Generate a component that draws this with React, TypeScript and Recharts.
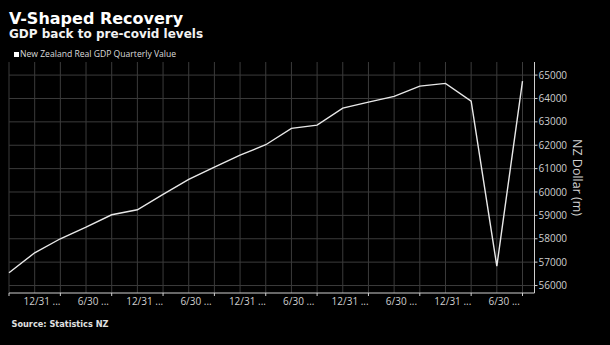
import { LineChart, Line, XAxis, YAxis, CartesianGrid } from "recharts";

// quarterly real GDP, NZ$ m
const quarters = [
  "2015-09-30", "2015-12-31", "2016-03-31", "2016-06-30", "2016-09-30",
  "2016-12-31", "2017-03-31", "2017-06-30", "2017-09-30", "2017-12-31",
  "2018-03-31", "2018-06-30", "2018-09-30", "2018-12-31", "2019-03-31",
  "2019-06-30", "2019-09-30", "2019-12-31", "2020-03-31", "2020-06-30",
  "2020-09-30",
];
const gdpValues = [
  56545, 57400, 58000, 58496, 59026, 59240, 59895, 60537, 61063, 61577,
  62022, 62719, 62860, 63588, 63845, 64089, 64529, 64645, 63887, 56827,
  64743,
];
const tickLabels = [
  "12/31 ...", "6/30 ...", "12/31 ...", "6/30 ...", "12/31 ...",
  "6/30 ...", "12/31 ...", "6/30 ...", "12/31 ...", "6/30 ...",
];
const yTicks = [56000, 57000, 58000, 59000, 60000, 61000, 62000, 63000, 64000, 65000];
const seriesName = "New Zealand Real GDP Quarterly Value";

const data = gdpValues.map((v, i) => ({ q: i, date: quarters[i], gdp: v }));
const xTicks = quarters.map((_, i) => i).filter((i) => i % 2 === 0);

const sans = "'Open Sans', sans-serif";
const bold = "'DejaVu Sans', sans-serif";

function QuarterTick(props: any) {
  const { x, y, payload } = props;
  const text = tickLabels[payload.value / 2];
  if (!text) return null;
  return (
    <text x={x} y={y} dx={33} dy="0.71em" textAnchor="middle" fill="#cfcfcf" fontSize={10} fontFamily={sans}>
      {text}
    </text>
  );
}

export default function App() {
  return (
    <div
      style={{
        position: "fixed",
        left: 0,
        top: 0,
        width: 610,
        height: 345,
        background: "#000",
        overflow: "hidden",
      }}
    >
      <div style={{ position: "absolute", left: 9, top: 10.5, fontFamily: bold, fontWeight: 700, fontSize: 16, lineHeight: "16px", color: "#fff" }}>
        V-Shaped Recovery
      </div>
      <div style={{ position: "absolute", left: 9, top: 27.5, fontFamily: bold, fontWeight: 700, fontSize: 12, lineHeight: "12px", color: "#f2f2f2" }}>
        GDP back to pre-covid levels
      </div>
      <div style={{ position: "absolute", left: 14, top: 51.5, width: 5, height: 5, background: "#fff" }} />
      <div style={{ position: "absolute", left: 20, top: 49.5, fontFamily: sans, fontSize: 8.6, lineHeight: "8.6px", color: "#dcdcdc", whiteSpace: "nowrap" }}>
        {seriesName}
      </div>
      <div style={{ position: "absolute", left: 11.5, top: 320, fontFamily: bold, fontWeight: 700, fontSize: 8.2, lineHeight: "8.2px", color: "#e0e0e0" }}>
        Source: Statistics NZ
      </div>

      <div style={{ position: "absolute", left: 0, top: 0 }}>
        <LineChart width={610} height={345} data={data} margin={{ top: 62, right: 5, bottom: 30, left: 9 }}>
          <CartesianGrid stroke="#3b3b3b" verticalValues={data.map((d) => d.q)} horizontalValues={yTicks} />
          <XAxis
            type="number"
            dataKey="q"
            domain={[0, quarters.length - 1]}
            ticks={xTicks}
            padding={{ left: 0, right: 12 }}
            height={22}
            interval={0}
            stroke="#cfcfcf"
            tickSize={3}
            tickMargin={2}
            tick={<QuarterTick />}
          />
          <YAxis
            orientation="right"
            type="number"
            domain={[55680, 65560]}
            ticks={yTicks}
            interval={0}
            width={70.5}
            stroke="#cfcfcf"
            tickSize={3}
            tickMargin={1}
            tick={{ fill: "#cfcfcf", fontSize: 10, fontFamily: sans }}
            label={{ value: "NZ Dollar (m)", angle: 90, position: "center", dx: 8, fill: "#cfcfcf", fontSize: 12.5, fontFamily: sans }}
          />
          <Line
            type="linear"
            dataKey="gdp"
            stroke="#e8e8e8"
            strokeWidth={1.4}
            dot={false}
            isAnimationActive={false}
          />
        </LineChart>
      </div>
    </div>
  );
}
